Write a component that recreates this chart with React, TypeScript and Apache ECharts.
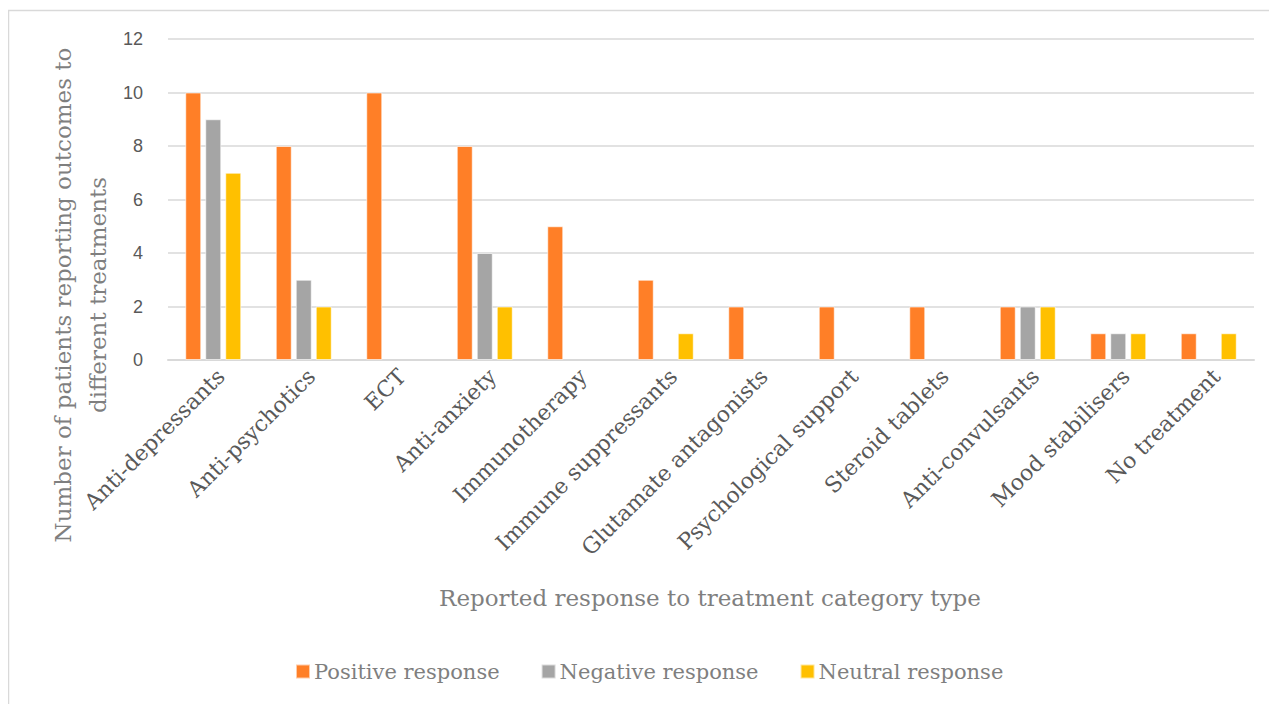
import React, { useEffect, useRef } from "react";
import * as echarts from "echarts";

const categories = [
  "Anti-depressants",
  "Anti-psychotics",
  "ECT",
  "Anti-anxiety",
  "Immunotherapy",
  "Immune suppressants",
  "Glutamate antagonists",
  "Psychological support",
  "Steroid tablets",
  "Anti-convulsants",
  "Mood stabilisers",
  "No treatment",
];
const positive = [10, 8, 10, 8, 5, 3, 2, 2, 2, 2, 1, 1];
const negative = [9, 3, 0, 4, 0, 0, 0, 0, 0, 2, 1, 0];
const neutral = [7, 2, 0, 2, 0, 1, 0, 0, 0, 2, 1, 1];
const seriesNames = ["Positive response", "Negative response", "Neutral response"];
const yTitleLines = ["Number of patients reporting outcomes to", "different treatments"];
const xTitle = "Reported response to treatment category type";

const SERIF = "'DejaVu Serif', serif";
const SANS = "'Liberation Sans', 'Open Sans', sans-serif";

export default function App() {
  const ref = useRef<HTMLDivElement>(null);
  useEffect(() => {
    if (!ref.current) return;
    const chart = echarts.init(ref.current, null, { renderer: "svg" });
    const colors = ["#FF7F27", "#A5A5A5", "#FFC000"];
    const mk = (name: string, data: number[], color: string) => ({
      name,
      type: "bar",
      data: data.map((v) => (v === 0 ? null : v)),
      barWidth: 16,
      barGap: "25%",
      itemStyle: { color, borderColor: "rgba(255,255,255,0.6)", borderWidth: 1 },
    });
    chart.setOption({
      animation: false,
      color: colors,
      grid: { left: 160, right: 23, top: 31, bottom: 344, containLabel: false },
      legend: {
        data: seriesNames,
        left: 282,
        top: 648,
        itemWidth: 14,
        itemHeight: 14,
        itemGap: 41,
        icon: "rect",
        textStyle: { fontFamily: SERIF, fontSize: 21, color: "#7F7F7F", padding: [0, 0, 0, -1] },
      },
      xAxis: {
        type: "category",
        data: categories,
        axisLine: { lineStyle: { color: "#D9D9D9", width: 2 } },
        axisTick: { show: false },
        axisLabel: {
          rotate: 45,
          interval: 0,
          margin: 5,
          verticalAlign: "top",
          fontFamily: SERIF,
          fontSize: 22,
          color: "#595959",
        },
      },
      yAxis: {
        type: "value",
        min: 0,
        max: 12,
        interval: 2,
        axisLine: { show: false },
        axisTick: { show: false },
        splitLine: { lineStyle: { color: "#D9D9D9", width: 1.5 } },
        axisLabel: { margin: 25, fontFamily: SANS, fontSize: 18, color: "#595959" },
      },
      graphic: [
        {
          type: "rect",
          silent: true,
          shape: { x: 0.5, y: 2.5, width: 1400, height: 900 },
          style: { fill: "none", stroke: "#D9D9D9", lineWidth: 1.5 },
        },
        {
          type: "text",
          x: 72,
          y: 287,
          rotation: Math.PI / 2,
          style: {
            text: yTitleLines.join("\n"),
            fontFamily: SERIF,
            fontSize: 23,
            lineHeight: 35,
            fill: "#7F7F7F",
            align: "center",
            verticalAlign: "middle",
          },
        },
        {
          type: "text",
          x: 702,
          y: 590,
          style: {
            text: xTitle,
            fontFamily: SERIF,
            fontSize: 23,
            fill: "#7F7F7F",
            align: "center",
            verticalAlign: "middle",
          },
        },
      ],
      series: [
        mk(seriesNames[0], positive, colors[0]),
        mk(seriesNames[1], negative, colors[1]),
        mk(seriesNames[2], neutral, colors[2]),
      ],
    });
    return () => chart.dispose();
  }, []);
  return <div ref={ref} style={{ width: 1269, height: 696 }} />;
}
